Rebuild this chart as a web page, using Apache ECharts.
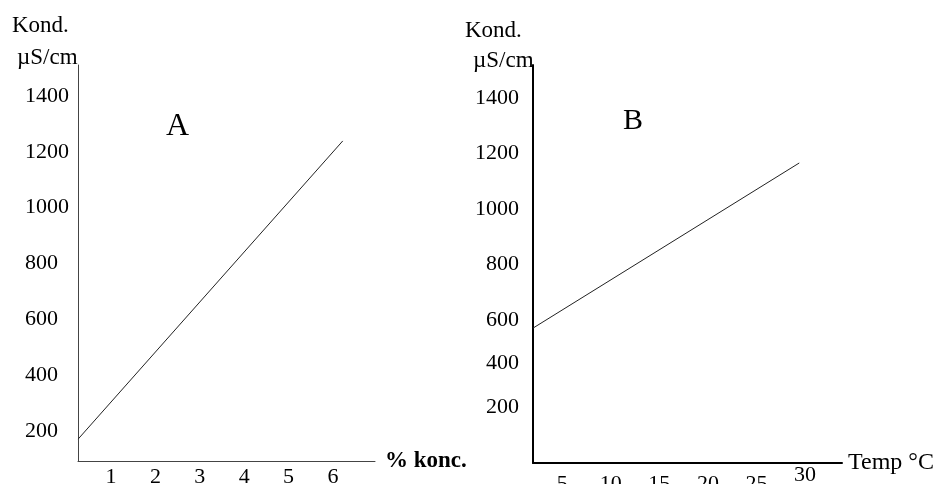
<!DOCTYPE html>
<html>
<head>
<meta charset="utf-8">
<script src="https://cdn.jsdelivr.net/npm/echarts@6/dist/echarts.min.js"></script>
<style>html,body{margin:0;padding:0;background:#fff}#c{width:940px;height:484px}</style>
</head>
<body>
<div id="c"></div>
<script>
// ---- data ----
const xTicksA = [1, 2, 3, 4, 5, 6];
const yTicksA = [200, 400, 600, 800, 1000, 1200, 1400];
const concA = [0.26, 6.22];          // % konc.
const kondA = [171, 1239];           // µS/cm

const xTicksB = [5, 10, 15, 20, 25, 30];
const yTicksB = [200, 400, 600, 800, 1000, 1200, 1400];
const tempB = [2, 29.4];             // °C
const kondB = [571, 1166];           // µS/cm

const yNameTop = 'Kond.';
const yNameUnit = 'µS/cm';
const xNameA = '% konc.';
const xNameB = 'Temp °C';
const panelA = 'A';
const panelB = 'B';

// ---- layout ----
// In panel B the lower labels of the sketch sit off the linear scale; anchor values for them:
const yLabelAnchorB = [286, 445, 600, 800, 1000, 1200, 1400];
const FONT = '"Liberation Serif", "Times New Roman", serif';

const chart = echarts.init(document.getElementById('c'), null, {renderer: 'canvas'});

const pairs = (xs, ys) => xs.map((x, i) => [x, ys[i]]);

chart.setOption({
  animation: false,
  backgroundColor: '#fff',
  grid: [
    {left: 78, top: 65, width: 297, height: 396, outerBoundsMode: 'none', containLabel: false},
    {left: 533, top: 65, width: 309, height: 398, outerBoundsMode: 'none', containLabel: false}
  ],
  xAxis: [
    {
      gridIndex: 0, type: 'value', min: 0.257, max: 6.946,
      splitLine: {show: false}, axisTick: {show: false},
      axisLine: {lineStyle: {color: '#444', width: 1}},
      axisLabel: {customValues: xTicksA, margin: 5, color: '#000', fontFamily: FONT, fontSize: 22,
        formatter: v => String(v)},
      name: xNameA, nameLocation: 'end', nameGap: 10,
      nameTextStyle: {color: '#000', fontFamily: FONT, fontSize: 23, fontWeight: 'bold', verticalAlign: 'middle'}
    },
    {
      gridIndex: 1, type: 'value', min: 2, max: 33.8,
      splitLine: {show: false}, axisTick: {show: false},
      axisLine: {lineStyle: {color: '#000', width: 2}},
      axisLabel: {
        customValues: xTicksB, margin: 1, color: '#000', fontFamily: FONT, fontSize: 22,
        formatter: v => (v === xTicksB[xTicksB.length - 1] ? '{hi|' + v + '}' : '{lo|' + v + '}'),
        rich: {
          hi: {fontFamily: FONT, fontSize: 22, color: '#000'},
          lo: {fontFamily: FONT, fontSize: 22, color: '#000', padding: [9, 0, 0, 0]}
        }
      },
      name: xNameB, nameLocation: 'end', nameGap: 6,
      nameTextStyle: {color: '#000', fontFamily: FONT, fontSize: 24, verticalAlign: 'middle'}
    }
  ],
  yAxis: [
    {
      gridIndex: 0, type: 'value', min: 92.5, max: 1511,
      splitLine: {show: false}, axisTick: {show: false},
      axisLine: {lineStyle: {color: '#444', width: 1}},
      axisLabel: {customValues: yTicksA, margin: 53, align: 'left', color: '#000', fontFamily: FONT, fontSize: 22,
        formatter: v => String(v)}
    },
    {
      gridIndex: 1, type: 'value', min: 85, max: 1519,
      splitLine: {show: false}, axisTick: {show: false},
      axisLine: {lineStyle: {color: '#000', width: 2}},
      axisLabel: {
        customValues: yLabelAnchorB, margin: 14, align: 'right', color: '#000', fontFamily: FONT, fontSize: 22,
        formatter: v => String(yTicksB[yLabelAnchorB.indexOf(v)])
      }
    }
  ],
  series: [
    {
      type: 'line', xAxisIndex: 0, yAxisIndex: 0, data: pairs(concA, kondA),
      symbol: 'none', lineStyle: {color: '#222', width: 1}
    },
    {
      type: 'line', xAxisIndex: 1, yAxisIndex: 1, data: pairs(tempB, kondB),
      symbol: 'none', lineStyle: {color: '#222', width: 1}
    }
  ],
  graphic: [
    {type: 'text', left: 12, top: 14, style: {text: yNameTop, font: '23px ' + FONT, fill: '#000'}},
    {type: 'text', left: 17, top: 46, style: {text: yNameUnit, font: '23px ' + FONT, fill: '#000'}},
    {type: 'text', left: 465, top: 19, style: {text: yNameTop, font: '23px ' + FONT, fill: '#000'}},
    {type: 'text', left: 473, top: 49, style: {text: yNameUnit, font: '23px ' + FONT, fill: '#000'}},
    {type: 'text', left: 166, top: 111, style: {text: panelA, font: '32px ' + FONT, fill: '#000'}},
    {type: 'text', left: 623, top: 106, style: {text: panelB, font: '30px ' + FONT, fill: '#000'}}
  ]
});
</script>
</body>
</html>
